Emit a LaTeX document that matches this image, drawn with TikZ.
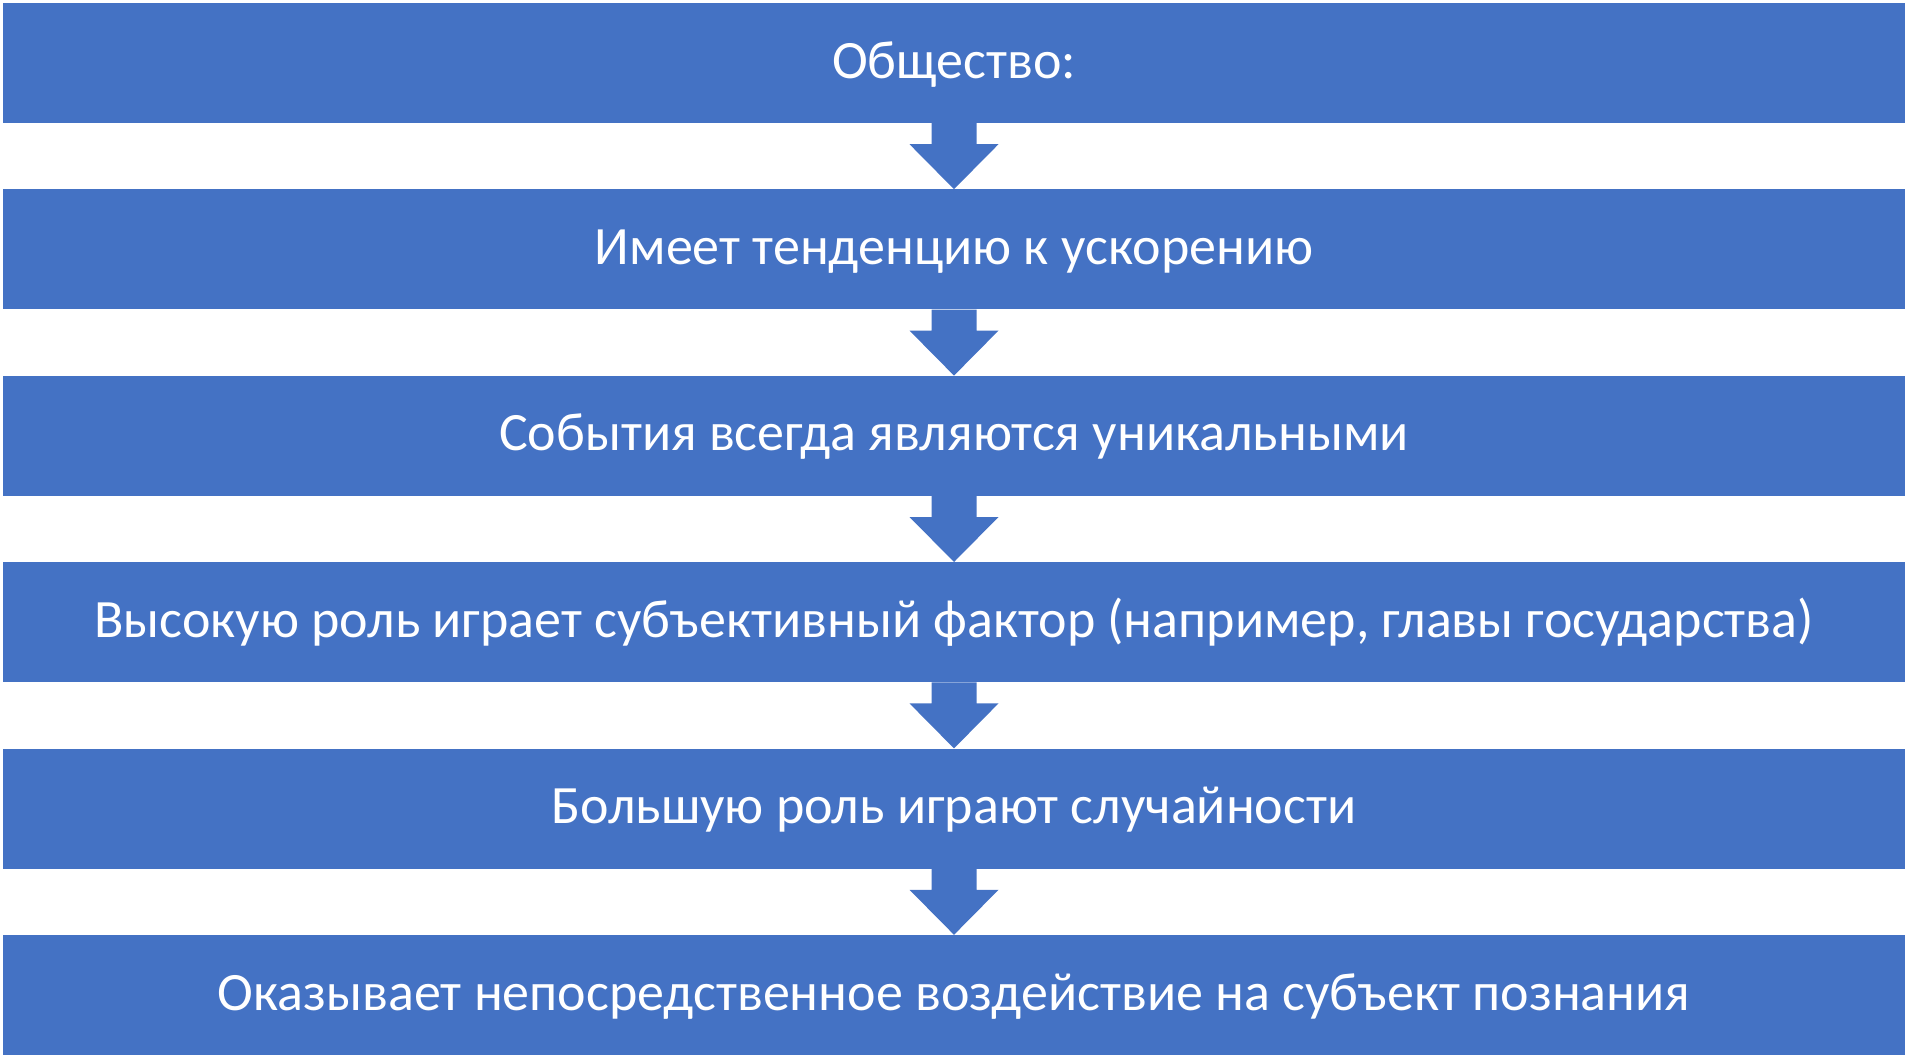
\documentclass[tikz,border=0pt]{standalone}
\usepackage{fontspec}
\setmainfont{Carlito}
\usetikzlibrary{calc}
\definecolor{boxblue}{HTML}{4472C4}
\tikzset{
  stepbox/.style={rectangle, fill=boxblue, draw=none, text=white, minimum width=1902pt, minimum height=120pt, inner sep=0pt, text height=42pt, text depth=12pt, font=\fontsize{54pt}{65pt}\selectfont},
  downarrow/.style={fill=boxblue, draw=none}
}
\newcommand{\flowarrow}[2]{%
  \fill[downarrow] ($(#1.south)+(-22.5,0)$) -- ($(#1.south)+(22.5,0)$) -- ($(#1.south)+(22.5,21)$) -- ($(#1.south)+(44.5,21)$) -- (#2.north) -- ($(#1.south)+(-44.5,21)$) -- ($(#1.south)+(-22.5,21)$) -- cycle;}
\begin{document}
\begin{tikzpicture}[x=1pt,y=-1pt]
\useasboundingbox (0,0) rectangle (1907,1058);
\node[stepbox] (b1) at (954,63) {Общество:};
\node[stepbox] (b2) at (954,249.4) {Имеет тенденцию к ускорению};
\node[stepbox] (b3) at (954,435.8) {События всегда являются уникальными};
\node[stepbox] (b4) at (954,622.2) {Высокую роль играет субъективный фактор (например, главы государства)};
\node[stepbox] (b5) at (954,808.6) {Большую роль играют случайности};
\node[stepbox] (b6) at (954,995) {Оказывает непосредственное воздействие на субъект познания};
\flowarrow{b1}{b2}
\flowarrow{b2}{b3}
\flowarrow{b3}{b4}
\flowarrow{b4}{b5}
\flowarrow{b5}{b6}
\end{tikzpicture}
\end{document}
